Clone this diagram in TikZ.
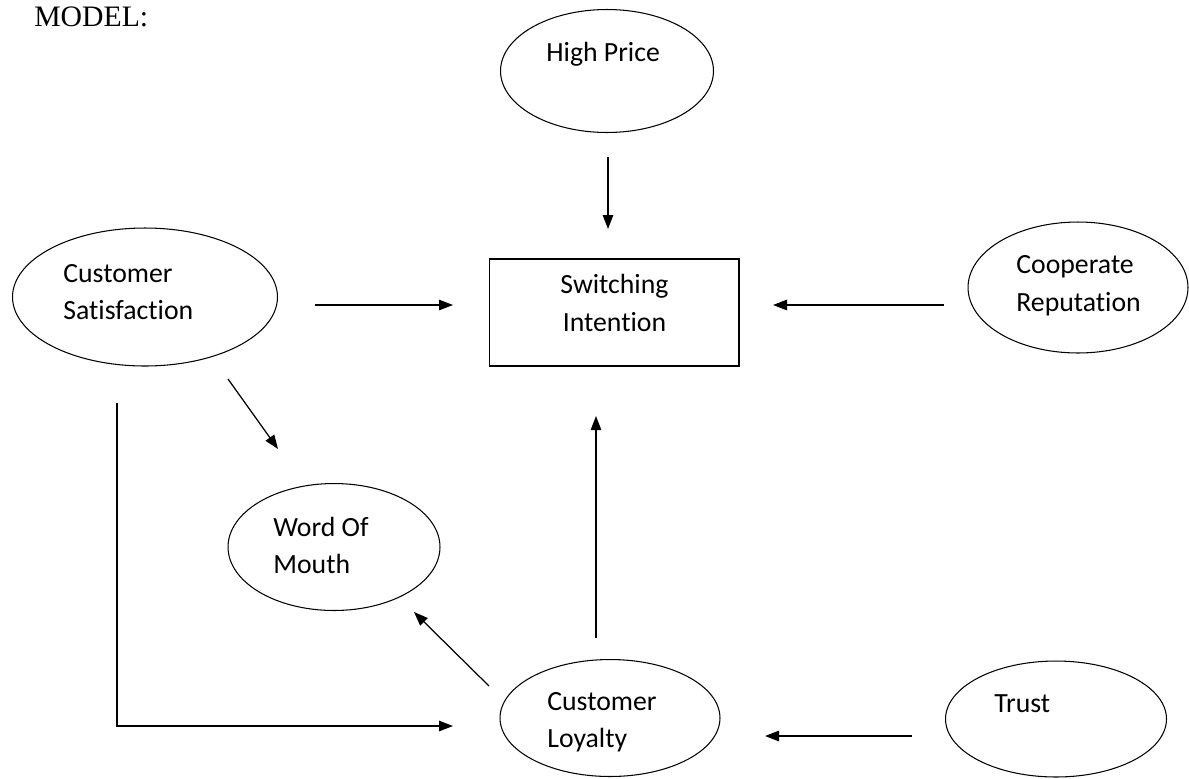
\documentclass[tikz,border=0pt]{standalone}
\usepackage{fontspec}
\setmainfont{Carlito}[Ligatures={NoCommon}]
\newfontfamily\modelfont{Liberation Serif}
\usetikzlibrary{arrows.meta,shapes.geometric}
\tikzset{
  oval/.style={draw, ellipse, line width=0.6pt, inner sep=0pt},
  lbl/.style={anchor=base west, inner sep=0pt, font=\fontsize{15.8}{21}\selectfont},
  clbl/.style={anchor=base, inner sep=0pt, font=\fontsize{15.8}{21}\selectfont},
  conn/.style={line width=0.7pt, -{Triangle[length=0.28cm,width=0.21cm]}},
}
\begin{document}
\begin{tikzpicture}[x=0.02cm,y=-0.02cm]
\useasboundingbox (0,0) rectangle (1189,778);
% title
\node[anchor=base west, inner sep=0pt, font=\modelfont\fontsize{16.9}{20}\selectfont] (title) at (34,26) {MODEL:};
% nodes
\node[oval, minimum width=4.26cm, minimum height=2.46cm] (hp) at (607,71) {};
\node[draw, line width=0.6pt, minimum width=5.0cm, minimum height=2.14cm, inner sep=0pt] (si) at (614,312.5) {};
\node[oval, minimum width=5.3cm, minimum height=2.76cm] (cs) at (145,297) {};
\node[oval, minimum width=4.4cm, minimum height=2.62cm] (cr) at (1078,287.5) {};
\node[oval, minimum width=4.24cm, minimum height=2.54cm] (wom) at (334,547) {};
\node[oval, minimum width=4.4cm, minimum height=2.34cm] (cl) at (610,718) {};
\node[oval, minimum width=4.42cm, minimum height=2.32cm] (tr) at (1056,719) {};
% texts
\node[lbl] (hpt) at (546,61) {High Price};
\node[clbl] (sit1) at (614.5,293) {Switching};
\node[clbl] (sit2) at (614.5,331) {Intention};
\node[lbl] (cst1) at (63,282) {Customer};
\node[lbl] (cst2) at (63,319) {Satisfaction};
\node[lbl] (crt1) at (1016,273) {Cooperate};
\node[lbl] (crt2) at (1016,311) {Reputation};
\node[lbl] (womt1) at (273,536) {Word Of};
\node[lbl] (womt2) at (273,573) {Mouth};
\node[lbl] (clt1) at (547,710) {Customer};
\node[lbl] (clt2) at (547,747) {Loyalty};
\node[lbl] (trt) at (994,712) {Trust};
% connector end points
\coordinate (a1s) at (608,157); \coordinate (a1e) at (608,229);
\coordinate (a2s) at (315,305); \coordinate (a2e) at (453,305);
\coordinate (a3s) at (944,305); \coordinate (a3e) at (773,305);
\coordinate (a4s) at (228,379); \coordinate (a4e) at (278,449);
\coordinate (a5s) at (596,638); \coordinate (a5e) at (596,416);
\coordinate (a6s) at (489,686); \coordinate (a6e) at (414,612);
\coordinate (a7s) at (117,403); \coordinate (a7c) at (117,726); \coordinate (a7e) at (453,726);
\coordinate (a8s) at (912,736); \coordinate (a8e) at (765,736);
% connectors
\draw[conn] (a1s) -- (a1e);
\draw[conn] (a2s) -- (a2e);
\draw[conn] (a3s) -- (a3e);
\draw[conn] (a4s) -- (a4e);
\draw[conn] (a5s) -- (a5e);
\draw[conn] (a6s) -- (a6e);
\draw[conn] (a7s) -- (a7c) -- (a7e);
\draw[conn] (a8s) -- (a8e);
\end{tikzpicture}
\end{document}
